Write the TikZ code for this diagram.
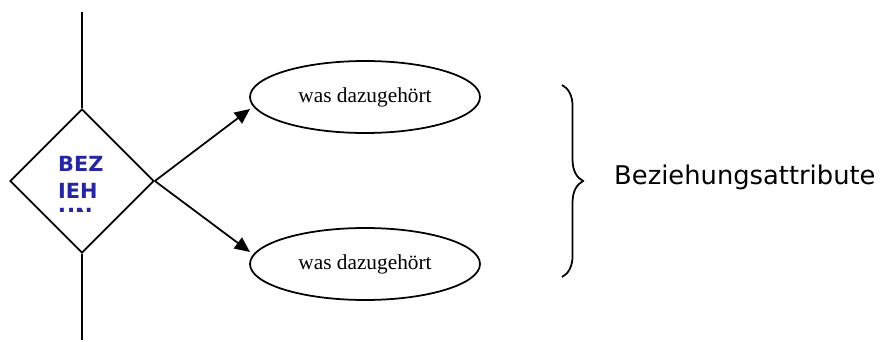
\documentclass[tikz,border=0pt]{standalone}
\usepackage{fontspec}
\setmainfont{Liberation Serif}
\newfontfamily\verdanalike{DejaVu Sans}
\usepackage{tikz}
\usetikzlibrary{shapes.geometric}
\usetikzlibrary{arrows.meta}
\usetikzlibrary{decorations.pathreplacing}
\definecolor{relblue}{RGB}{38,38,158}

\tikzset{
  relation/.style={draw, diamond, line width=1.5pt, inner sep=0pt,
    minimum width=4.32cm, minimum height=4.32cm},
  reltext/.style={anchor=base west, inner sep=0pt, text=relblue,
    font=\verdanalike\bfseries\fontsize{17.8}{20}\selectfont},
  attrib/.style={draw, ellipse, line width=1.5pt, inner sep=0pt,
    minimum width=6.9cm, minimum height=2.16cm,
    font=\fontsize{18.2}{21}\selectfont},
  link/.style={line width=1.5pt, -{Triangle[length=13pt, width=11.5pt]}}
}

\begin{document}
\begin{tikzpicture}[x=0.03cm, y=-0.03cm]
\useasboundingbox (0,0) rectangle (894,342);

% relationship
\node [relation] (rel) at (82,181) {};
\node [reltext] (relA) at (58,172) {BEZ};
\node [reltext] (relB) at (58,198) {IEH};
\begin{scope}
\clip (0,0) rectangle (894,211);
\node [reltext] (relC) at (58,223) {UN};
\end{scope}

\coordinate (linetop) at (82,12);
\coordinate (linebot) at (82,340);
\draw [line width=1.5pt] (linetop) -- (rel.north);
\draw [line width=1.5pt] (rel.south) -- (linebot);

% attributes
\node [attrib] (attrA) at (365,97) {\raisebox{3.5pt}{was dazugehört}};
\node [attrib] (attrB) at (365,264) {was dazugehört};

\coordinate (tipA) at (250,109);
\coordinate (tipB) at (250,252);
\draw [link] (rel.east) -- (tipA);
\draw [link] (rel.east) -- (tipB);

% brace
\coordinate (bracetop) at (562,85);
\coordinate (bracebot) at (562,277);
\draw [line width=1.5pt, decorate, decoration={brace, amplitude=18pt}]
  (bracetop) -- (bracebot);

\node [anchor=base west, inner sep=0pt,
  font=\verdanalike\fontsize{22}{24}\selectfont] (attrlabel) at (614,185) {Beziehungsattribute};

\end{tikzpicture}
\end{document}
